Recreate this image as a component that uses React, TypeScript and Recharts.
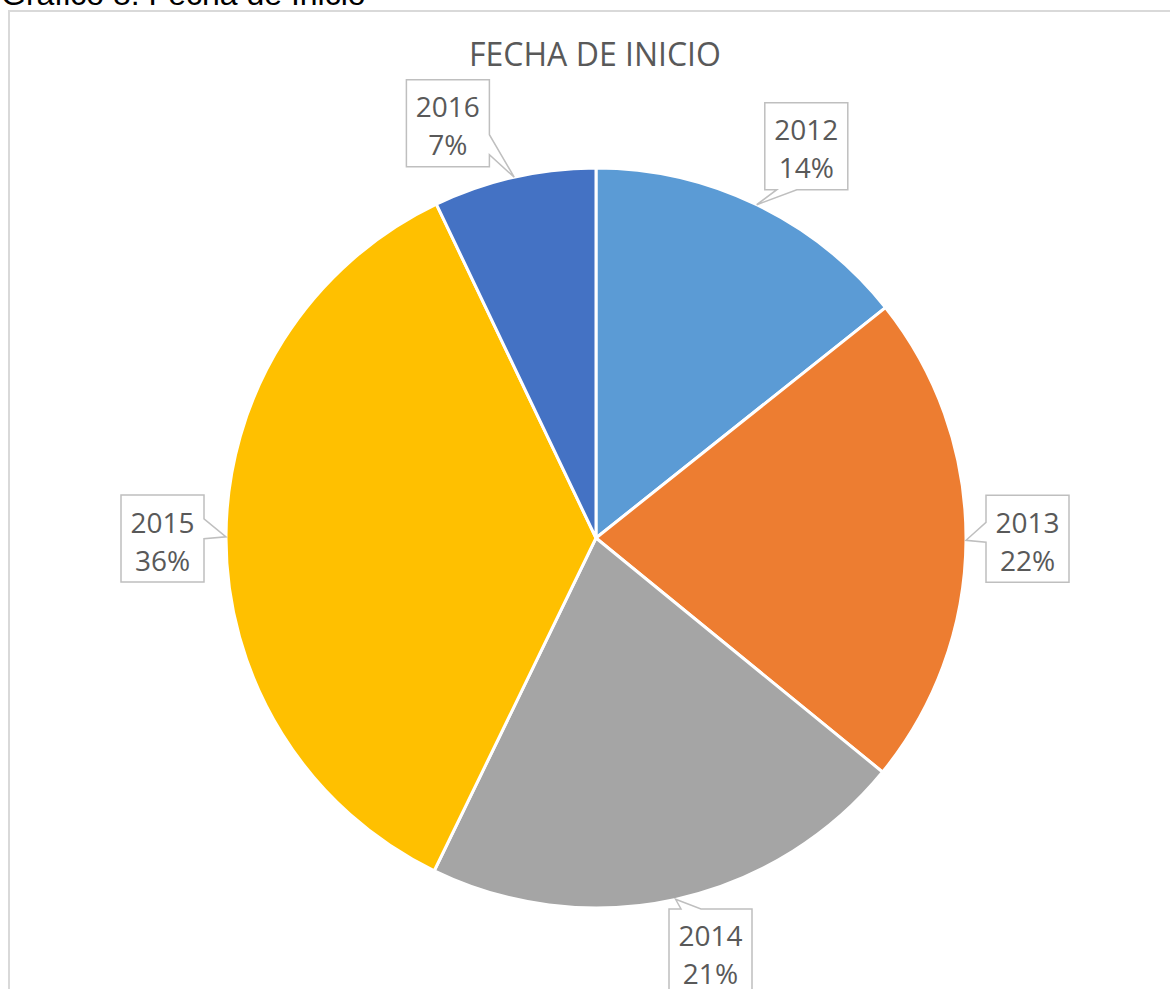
import { PieChart, Pie, Cell } from "recharts";

const years = ["2012", "2013", "2014", "2015", "2016"];
const shares = [14.3, 21.6, 21.3, 35.7, 7.1];
const shareLabels = ["14%", "22%", "21%", "36%", "7%"];
const colors = ["#5B9BD5", "#ED7D31", "#A5A5A5", "#FFC000", "#4472C4"];

// manual label moves, like the dragged callouts in the original
const labelNudge = [
    [20, 3],
    [0, -2],
    [21, -10],
    [-2, 2],
    [-52, 9],
];

const data = years.map((y, i) => ({ name: y, value: shares[i], label: shareLabels[i] }));

const RAD = Math.PI / 180;
const BOX_W = 83;
const BOX_H = 87;

const clamp = (v: number, lo: number, hi: number) => Math.max(lo, Math.min(hi, v));

function Callout(props: any) {
    const { cx, cy, midAngle, outerRadius, index } = props;
    const dx = Math.cos(-midAngle * RAD);
    const dy = Math.sin(-midAngle * RAD);
    const px = cx + outerRadius * dx;
    const py = cy + outerRadius * dy;
    const hw = BOX_W / 2;
    const hh = BOX_H / 2;
    const k =
        Math.min(
            Math.abs(dx) > 1e-6 ? hw / Math.abs(dx) : 1e6,
            Math.abs(dy) > 1e-6 ? hh / Math.abs(dy) : 1e6
        ) + 20;
    const bx = px + dx * k + labelNudge[index][0];
    const by = py + dy * k + labelNudge[index][1];
    const x0 = bx - hw;
    const x1 = bx + hw;
    const y0 = by - hh;
    const y1 = by + hh;

    const rx = (px - bx) / hw;
    const ry = (py - by) / hh;
    let side: "top" | "right" | "bottom" | "left";
    if (Math.abs(rx) > Math.abs(ry)) side = rx > 0 ? "right" : "left";
    else side = ry > 0 ? "bottom" : "top";

    const pts: [number, number][] = [];
    const tip: [number, number] = [px, py];
    pts.push([x0, y0]);
    if (side === "top") {
        const c = clamp(px, x0 + 22, x1 - 22);
        pts.push([c - 10, y0], tip, [c + 10, y0]);
    }
    pts.push([x1, y0]);
    if (side === "right") {
        const c = clamp(py - 8, y0 + 22, y1 - 22);
        pts.push([x1, c - 10], tip, [x1, c + 10]);
    }
    pts.push([x1, y1]);
    if (side === "bottom") {
        const c = clamp(px, x0 + 22, x1 - 22);
        pts.push([c + 10, y1], tip, [c - 10, y1]);
    }
    pts.push([x0, y1]);
    if (side === "left") {
        const c = clamp(py - 8, y0 + 22, y1 - 22);
        pts.push([x0, c + 10], tip, [x0, c - 10]);
    }
    const d = "M" + pts.map((p) => p[0].toFixed(1) + "," + p[1].toFixed(1)).join(" L") + " Z";

    return (
        <g>
            <path d={d} fill="#fff" stroke="#BFBFBF" strokeWidth={1.5} />
            <text
                x={bx}
                y={by - 6}
                textAnchor="middle"
                fill="#595959"
                fontFamily="'Open Sans', sans-serif"
                fontSize={28}
            >
                {years[index]}
            </text>
            <text
                x={bx}
                y={by + 32}
                textAnchor="middle"
                fill="#595959"
                fontFamily="'Open Sans', sans-serif"
                fontSize={28}
            >
                {shareLabels[index]}
            </text>
        </g>
    );
}

export default function App() {
    return (
        <div
            style={{
                position: "fixed",
                left: 0,
                top: 0,
                width: 1170,
                height: 989,
                overflow: "hidden",
                background: "#fff",
            }}
        >
            <div
                style={{
                    position: "absolute",
                    left: 8,
                    top: 10,
                    width: 1200,
                    height: 1000,
                    borderTop: "2px solid #D9D9D9",
                    borderLeft: "2px solid #D9D9D9",
                }}
            />
            <div style={{ position: "absolute", left: 0, top: 0 }}>
                <PieChart width={1170} height={989} margin={{ top: 0, right: 0, bottom: 0, left: 0 }}>
                    <Pie
                        data={data}
                        dataKey="value"
                        nameKey="name"
                        cx={596}
                        cy={538}
                        outerRadius={370}
                        startAngle={90}
                        endAngle={-270}
                        stroke="#fff"
                        strokeWidth={3}
                        label={Callout}
                        labelLine={false}
                        isAnimationActive={false}
                    >
                        {data.map((d, i) => (
                            <Cell key={d.name} fill={colors[i]} />
                        ))}
                    </Pie>
                </PieChart>
            </div>
            <svg
                width={1170}
                height={989}
                style={{ position: "absolute", left: 0, top: 0, pointerEvents: "none" }}
            >
                <text x={1} y={5} fontFamily="'Liberation Sans', Arial, sans-serif" fontSize={32} fill="#000">
                    Gráfico 8: Fecha de Inicio
                </text>
                <text
                    x={595}
                    y={66}
                    textAnchor="middle"
                    fontFamily="'Open Sans', sans-serif"
                    fontSize={32}
                    fill="#595959"
                >
                    FECHA DE INICIO
                </text>
            </svg>
        </div>
    );
}
